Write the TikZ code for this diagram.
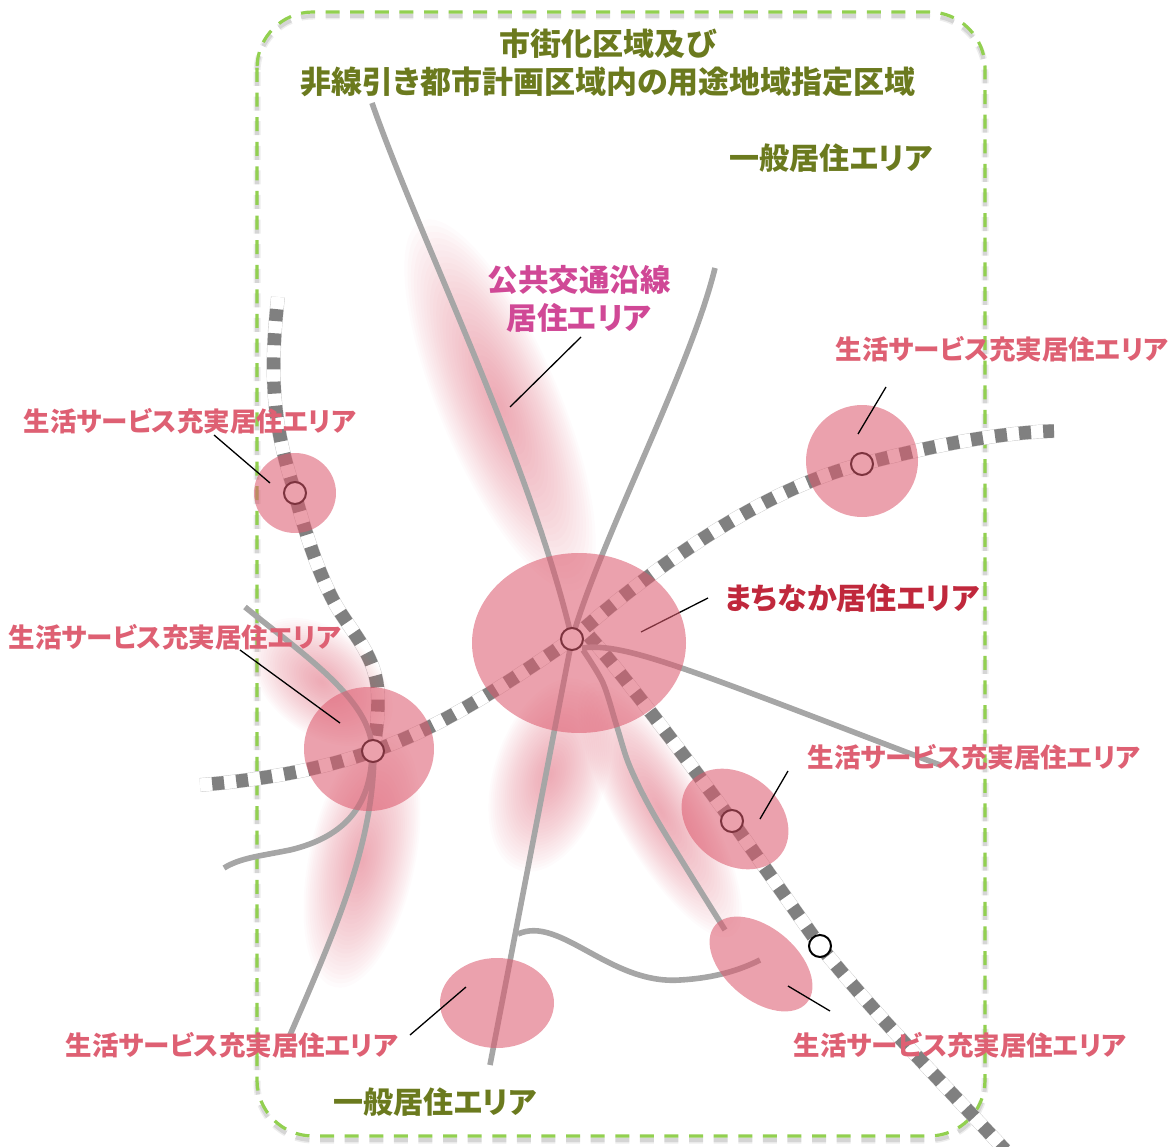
\documentclass[tikz,border=0pt]{standalone}
\usepackage{fontspec}
\usetikzlibrary{shapes.geometric}
\newfontfamily\jpfont[RawFeature=+palt]{Noto Sans CJK JP}
\definecolor{areagreen}{RGB}{146,208,80}
\definecolor{areatext}{RGB}{107,122,30}
\definecolor{lifered}{RGB}{222,96,115}
\definecolor{coretext}{RGB}{192,40,60}
\definecolor{linetext}{RGB}{208,72,150}
\definecolor{blush}{RGB}{220,90,110}
\definecolor{busgrey}{RGB}{166,166,166}
\definecolor{railgrey}{RGB}{128,128,128}
\tikzset{
	lifezone/.style={ellipse,fill=blush,fill opacity=0.57,inner sep=0pt},
	station/.style={circle,draw=black,line width=2pt,fill=white,minimum size=22pt,inner sep=0pt},
	busline/.style={draw=busgrey,line width=5.6pt},
	railedge/.style={draw=black!22,line width=14pt},
	railbase/.style={draw=white,line width=13.2pt},
	railtie/.style={draw=railgrey,line width=13.4pt,dash pattern=on 12pt off 12.2pt,dash phase=12pt},
	frameline/.style={dash pattern=on 14pt off 10.6pt,rounded corners=56pt},
	leader/.style={draw=black,line width=1.3pt},
	lifelabel/.style={text=lifered,font=\jpfont\bfseries\fontsize{26.5}{30}\selectfont,inner sep=0pt},
	arealabel/.style={text=areatext,font=\jpfont\bfseries\fontsize{30}{38}\selectfont,inner sep=0pt,align=center},
}
% soft edged area: centre x, centre y, half length, half width, angle
\newcommand{\softblob}[5]{
	\foreach \i in {1,...,30}
	\fill[blush,opacity=0.024,shift={(#1,#2)},rotate=#5] (0,0) ellipse ({#3*\i/30} and {#4*\i/30});
}
\def\railmain{(200,785) .. controls (260,780) and (320,770) .. (373,751) .. controls (440,728) and (505,685) .. (572,639) .. controls (650,570) and (760,490) .. (862,464) .. controls (920,449) and (990,433) .. (1054,431)}
\def\railwest{(278,297) .. controls (270,370) and (272,420) .. (292,483) .. controls (303,525) and (315,565) .. (333,600) .. controls (350,632) and (378,655) .. (378,698) .. controls (378,720) and (376,735) .. (373,751)}
\def\railsouth{(581,627) .. controls (620,670) and (680,750) .. (732,821) -- (820,946) .. controls (880,1020) and (940,1080) .. (1005,1150)}
\begin{document}
\begin{tikzpicture}[x=1pt,y=-1pt]
	\useasboundingbox (0,0) rectangle (1172,1147);
	% frame
	\draw[black,opacity=0.07,line width=7pt,frameline] (257,16) rectangle (985,1140);
	\draw[black,opacity=0.10,line width=4pt,frameline] (257,16) rectangle (985,1140);
	\draw[areagreen,line width=3.2pt,frameline] (257,12) rectangle (985,1136);
	% railways
	\foreach \railpath in {\railmain,\railwest,\railsouth}
	\draw[railedge] \railpath;
	\foreach \railpath in {\railmain,\railwest,\railsouth}
	\draw[railbase] \railpath;
	\foreach \railpath in {\railmain,\railwest,\railsouth}
	\draw[railtie] \railpath;
	% soft areas along the lines
	\softblob{500}{405}{200}{60}{-67}
	\softblob{550}{775}{100}{56}{72}
	\softblob{660}{810}{145}{44}{-60}
	\softblob{362}{860}{130}{53}{78}
	\softblob{322}{682}{80}{52}{-38}
	% bus lines
	\draw[busline] (372,103) .. controls (420,240) and (530,460) .. (572,639);
	\draw[busline] (715,268) .. controls (690,370) and (600,540) .. (572,639);
	\draw[busline] (572,639) -- (490,1065);
	\draw[busline] (582,648) .. controls (625,642) and (690,670) .. (940,765);
	\draw[busline] plot[smooth] coordinates {(583,650) (603,683) (617,727) (630,767) (657,820) (725,930)};
	\draw[busline] (245,607) .. controls (300,652) and (372,700) .. (372,750) .. controls (372,810) and (340,838) .. (290,850) .. controls (260,856) and (240,858) .. (224,868);
	\draw[busline] (374,750) .. controls (374,840) and (340,920) .. (290,1035);
	\draw[busline] (518,934) .. controls (560,915) and (610,985) .. (680,980) .. controls (715,978) and (740,970) .. (760,960);
	% stations
	\node[station] (stacore) at (572,639) {};
	\node[station] (stawest) at (373,751) {};
	\node[station] (stanorth) at (295,493) {};
	\node[station] (staeast) at (862,464) {};
	\node[station] (stasouth) at (732,821) {};
	\node[station] (stafar) at (820,946) {};
	% leader lying under the central zone
	\coordinate (lcore) at (708,598);
	\coordinate (lcoreend) at (641,632);
	\draw[leader] (lcore)--(lcoreend);
	% zones
	\node[lifezone,minimum width=214pt,minimum height=180pt] (zonecore) at (579,643) {};
	\node[lifezone,minimum width=130pt,minimum height=124pt] (zonewest) at (369,749) {};
	\node[lifezone,minimum width=82pt,minimum height=80pt] (zonenorth) at (295,493) {};
	\node[lifezone,minimum width=112pt,minimum height=112pt] (zoneeast) at (862,461) {};
	\node[lifezone,minimum width=116pt,minimum height=90pt,rotate=-38] (zonesouth) at (735,819) {};
	\node[lifezone,minimum width=120pt,minimum height=72pt,rotate=-40] (zonefar) at (761,964) {};
	\node[lifezone,minimum width=114pt,minimum height=90pt] (zonebottom) at (497,1003) {};
	% leaders
	\coordinate (lnorth) at (214,435);
	\coordinate (lnorthend) at (270,483);
	\coordinate (lwest) at (240,650);
	\coordinate (lwestend) at (340,723);
	\coordinate (lline) at (581,337);
	\coordinate (llineend) at (510,407);
	\coordinate (least) at (886,387);
	\coordinate (leastend) at (858,434);
	\coordinate (lsouth) at (788,771);
	\coordinate (lsouthend) at (760,819);
	\coordinate (lfar) at (830,1011);
	\coordinate (lfarend) at (788,986);
	\coordinate (lbottom) at (410,1035);
	\coordinate (lbottomend) at (466,987);
	\foreach \a/\b in {lnorth/lnorthend,lwest/lwestend,lline/llineend,least/leastend,lsouth/lsouthend,lfar/lfarend,lbottom/lbottomend}
	\draw[leader] (\a)--(\b);
	% labels
	\node[arealabel,font=\jpfont\bfseries\fontsize{31}{38}\selectfont] (areatitle) at (608,63) {市街化区域及び\\非線引き都市計画区域内の用途地域指定区域};
	\node[arealabel] (areaupper) at (831,158) {一般居住エリア};
	\node[arealabel] (arealower) at (435,1102) {一般居住エリア};
	\node[arealabel,text=linetext,font=\jpfont\bfseries\fontsize{30.5}{38}\selectfont] (linearea) at (579,299) {公共交通沿線\\居住エリア};
	\node[arealabel,text=coretext] (corearea) at (852,598) {まちなか居住エリア};
	\node[lifelabel] (lifenorth) at (190,421) {生活サービス充実居住エリア};
	\node[lifelabel] (lifewest) at (175,637) {生活サービス充実居住エリア};
	\node[lifelabel] (lifeeast) at (1002,349) {生活サービス充実居住エリア};
	\node[lifelabel] (lifesouth) at (974,757) {生活サービス充実居住エリア};
	\node[lifelabel] (lifebottom) at (232,1045) {生活サービス充実居住エリア};
	\node[lifelabel] (lifefar) at (960,1045) {生活サービス充実居住エリア};
\end{tikzpicture}
\end{document}
